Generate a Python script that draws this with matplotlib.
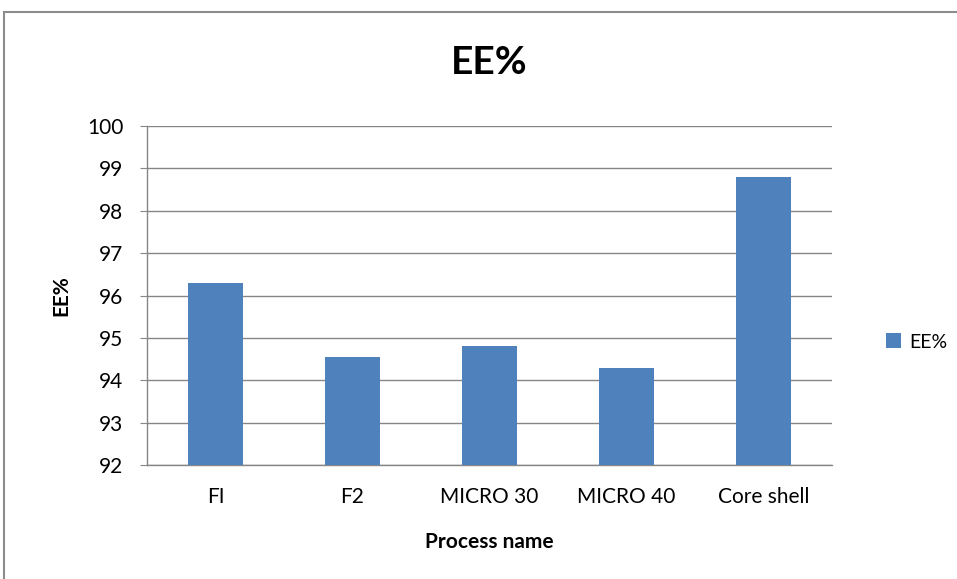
import matplotlib
matplotlib.use("Agg")
import matplotlib.pyplot as plt
from matplotlib.patches import Rectangle

categories = ["FI", "F2", "MICRO 30", "MICRO 40", "Core shell"]
ee_values = [96.3, 94.55, 94.8, 94.28, 98.8]
y_ticks = [92, 93, 94, 95, 96, 97, 98, 99, 100]

bar_color = "#4F81BD"
grid_color = "#868686"

plt.rcParams["font.family"] = ["Lato", "DejaVu Sans"]

fig = plt.figure(figsize=(9.57, 5.79), dpi=100)
fig.patch.set_facecolor("white")

# chart-area frame
fig.patches.append(Rectangle((4 / 957, -0.05), 1.1, (579 - 12) / 579 + 0.05,
                             transform=fig.transFigure, fill=False,
                             edgecolor="#8C8C8C", linewidth=1.5))

ax = fig.add_axes([147 / 957, (579 - 465) / 579, (832 - 147) / 957, (465 - 126) / 579])
x = range(len(categories))
bars = ax.bar(x, ee_values, width=0.4, color=bar_color, label="EE%", zorder=3)

ax.set_ylim(92, 100)
ax.set_yticks(y_ticks)
ax.set_yticklabels([str(v) for v in y_ticks], fontsize=15)
ax.set_xlim(-0.5, len(categories) - 0.5)
ax.set_xticks(list(x))
ax.set_xticklabels(categories, fontsize=15)
ax.tick_params(axis="x", length=0, pad=16)
ax.tick_params(axis="y", length=5, color=grid_color, pad=12, direction="out")

ax.grid(axis="y", color=grid_color, linewidth=1, zorder=0)
for side in ["top", "right"]:
    ax.spines[side].set_visible(False)
for side in ["left", "bottom"]:
    ax.spines[side].set_color(grid_color)
    ax.spines[side].set_linewidth(1)

ax.set_ylabel("EE%", fontsize=15, fontweight="bold", labelpad=11)
ax.set_xlabel("Process name", fontsize=15, fontweight="bold", labelpad=18)
fig.text(0.5 * (147 + 832) / 957, (579 - 62) / 579, "EE%", fontsize=28,
         fontweight="bold", ha="center", va="center")

leg = fig.legend(handles=[bars], labels=["EE%"], loc="center left",
                 bbox_to_anchor=(868 / 957, (579 - 342) / 579), frameon=False,
                 fontsize=14, handlelength=0.8, handleheight=0.8, handletextpad=0.4)

fig.savefig("out.png", dpi=100, facecolor="white")
